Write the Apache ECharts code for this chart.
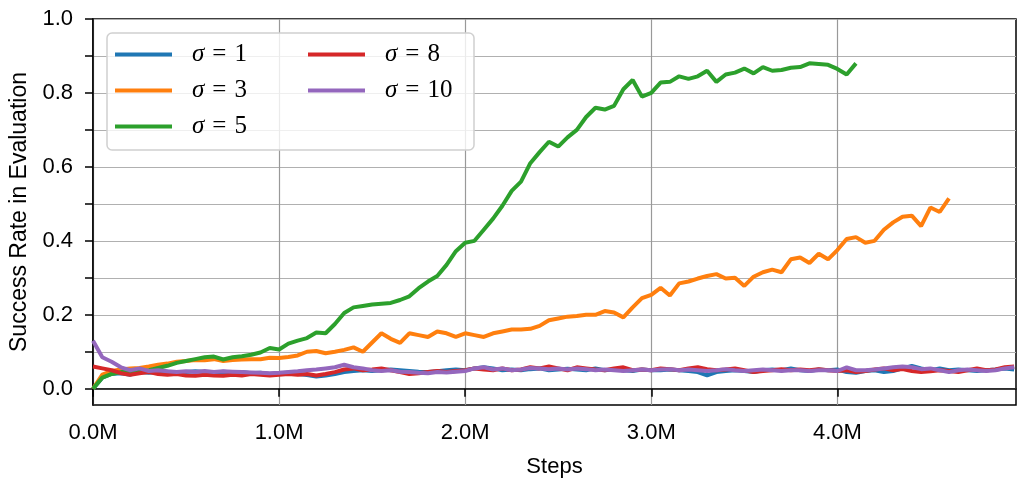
<!DOCTYPE html>
<html>
<head>
<meta charset="utf-8">
<script src="https://cdn.jsdelivr.net/npm/echarts@6/dist/echarts.min.js"></script>
<style>
html,body{margin:0;padding:0;background:#fff;}
#chart{width:1017px;height:480px;}
</style>
</head>
<body>
<div id="chart"></div>
<script>
// Steps in millions
const STEPS_M = [
0.00,0.05,0.10,0.15,0.20,0.25,0.30,0.35,0.40,0.45,
0.50,0.55,0.60,0.65,0.70,0.75,0.80,0.85,0.90,0.95,
1.00,1.05,1.10,1.15,1.20,1.25,1.30,1.35,1.40,1.45,
1.50,1.55,1.60,1.65,1.70,1.75,1.80,1.85,1.90,1.95,
2.00,2.05,2.10,2.15,2.20,2.25,2.30,2.35,2.40,2.45,
2.50,2.55,2.60,2.65,2.70,2.75,2.80,2.85,2.90,2.95,
3.00,3.05,3.10,3.15,3.20,3.25,3.30,3.35,3.40,3.45,
3.50,3.55,3.60,3.65,3.70,3.75,3.80,3.85,3.90,3.95,
4.00,4.05,4.10,4.15,4.20,4.25,4.30,4.35,4.40,4.45,
4.50,4.55,4.60,4.65,4.70,4.75,4.80,4.85,4.90,4.95];

const SIGMA_1 = [
0.0,0.03,0.04,0.042,0.038,0.045,0.043,0.045,0.046,0.044,
0.045,0.047,0.045,0.043,0.046,0.044,0.045,0.042,0.043,0.04,
0.042,0.043,0.04,0.037,0.033,0.036,0.04,0.045,0.048,0.05,
0.048,0.05,0.052,0.05,0.048,0.046,0.045,0.047,0.05,0.052,
0.05,0.055,0.058,0.055,0.05,0.052,0.05,0.053,0.055,0.05,
0.052,0.054,0.052,0.05,0.055,0.05,0.052,0.05,0.048,0.052,
0.05,0.05,0.052,0.05,0.048,0.045,0.036,0.045,0.048,0.05,
0.048,0.045,0.05,0.052,0.05,0.055,0.05,0.048,0.052,0.05,
0.052,0.045,0.043,0.048,0.05,0.045,0.048,0.055,0.062,0.055,
0.05,0.055,0.05,0.052,0.05,0.048,0.05,0.052,0.055,0.052];

const SIGMA_3 = [
0.00,0.038,0.048,0.052,0.055,0.056,0.06,0.065,0.068,0.073,
0.075,0.078,0.077,0.08,0.075,0.078,0.079,0.08,0.08,0.084,
0.083,0.086,0.09,0.1,0.102,0.096,0.1,0.105,0.112,0.1,
0.125,0.15,0.135,0.124,0.15,0.145,0.14,0.155,0.15,0.14,
0.15,0.145,0.14,0.15,0.155,0.16,0.16,0.162,0.17,0.185,
0.19,0.195,0.197,0.2,0.2,0.21,0.206,0.193,0.22,0.245,
0.254,0.273,0.252,0.285,0.29,0.298,0.305,0.31,0.298,0.3,
0.278,0.303,0.315,0.322,0.315,0.35,0.355,0.34,0.365,0.35,
0.375,0.405,0.41,0.395,0.4,0.43,0.45,0.465,0.468,0.44,
0.49,0.478,0.515];

const SIGMA_5 = [
0.00,0.03,0.04,0.045,0.045,0.045,0.05,0.056,0.062,0.07,
0.075,0.08,0.085,0.087,0.079,0.085,0.088,0.092,0.098,0.11,
0.106,0.122,0.13,0.137,0.152,0.15,0.175,0.205,0.22,0.224,
0.228,0.23,0.232,0.24,0.25,0.272,0.29,0.305,0.335,0.372,
0.395,0.40,0.43,0.46,0.495,0.535,0.56,0.61,0.64,0.668,
0.655,0.68,0.70,0.735,0.76,0.755,0.765,0.81,0.835,0.79,
0.80,0.828,0.83,0.845,0.838,0.845,0.86,0.83,0.85,0.855,
0.866,0.853,0.87,0.86,0.862,0.868,0.87,0.88,0.878,0.876,
0.865,0.85,0.88];

const SIGMA_8 = [
0.06,0.055,0.05,0.042,0.038,0.042,0.045,0.04,0.038,0.04,
0.036,0.035,0.038,0.036,0.035,0.038,0.036,0.04,0.038,0.036,
0.038,0.04,0.038,0.04,0.036,0.04,0.045,0.052,0.055,0.05,
0.052,0.055,0.05,0.045,0.04,0.042,0.045,0.048,0.045,0.048,
0.05,0.055,0.052,0.05,0.055,0.05,0.052,0.058,0.055,0.06,
0.055,0.05,0.058,0.055,0.052,0.05,0.055,0.058,0.05,0.052,
0.05,0.055,0.053,0.05,0.055,0.058,0.053,0.05,0.052,0.055,
0.05,0.045,0.048,0.05,0.053,0.05,0.052,0.05,0.053,0.05,
0.048,0.05,0.045,0.048,0.052,0.055,0.05,0.053,0.048,0.045,
0.047,0.05,0.048,0.045,0.05,0.055,0.05,0.052,0.058,0.06];

const SIGMA_10 = [
0.13,0.085,0.073,0.058,0.05,0.055,0.048,0.05,0.047,0.045,
0.047,0.045,0.048,0.045,0.047,0.046,0.045,0.044,0.043,0.042,
0.043,0.045,0.047,0.05,0.052,0.055,0.058,0.065,0.058,0.055,
0.05,0.048,0.05,0.046,0.045,0.043,0.042,0.045,0.044,0.046,
0.048,0.055,0.058,0.052,0.055,0.05,0.052,0.056,0.055,0.053,
0.055,0.052,0.055,0.053,0.05,0.052,0.05,0.048,0.05,0.052,
0.05,0.052,0.053,0.05,0.052,0.05,0.048,0.05,0.053,0.05,
0.048,0.05,0.052,0.05,0.048,0.05,0.05,0.048,0.05,0.05,
0.048,0.058,0.05,0.05,0.052,0.055,0.058,0.06,0.058,0.053,
0.055,0.05,0.045,0.05,0.052,0.05,0.048,0.05,0.055,0.058];

const SERIES_NAMES = ['σ = 1','σ = 3','σ = 5','σ = 8','σ = 10'];
const SERIES_VALUES = [SIGMA_1, SIGMA_3, SIGMA_5, SIGMA_8, SIGMA_10];
const COLORS = ['#1f77b4','#ff7f0e','#2ca02c','#d62728','#9467bd'];
const X_TICKS = [0,1,2,3,4];
const Y_LABEL_TICKS = [0,0.2,0.4,0.6,0.8,1.0];
const Y_MINOR_TICKS = [0,0.1,0.2,0.3,0.4,0.5,0.6,0.7,0.8,0.9,1.0];

const chart = echarts.init(document.getElementById('chart'), null, {renderer:'canvas'});
const FONT = '"Liberation Sans", Arial, Helvetica, sans-serif';
const SERIF = '"Liberation Serif", "DejaVu Serif", serif';

const series = SERIES_NAMES.map((name, i) => ({
  name: name,
  type: 'line',
  showSymbol: false,
  symbol: 'none',
  data: SERIES_VALUES[i].map((v, j) => [STEPS_M[j], v]),
  lineStyle: {color: COLORS[i], width: 4},
  itemStyle: {color: COLORS[i]},
  z: 2 + i,
  animation: false
}));

const legendCommon = {
  orient: 'vertical',
  itemWidth: 57,
  itemHeight: 4,
  icon: 'rect',
  itemGap: 11,
  z: 10,
  textStyle: {
    fontFamily: SERIF, fontSize: 25, color: '#000', lineHeight: 22,
    rich: {
      s: {width: 15, fontSize: 25, fontFamily: SERIF},
      i: {fontFamily: SERIF, fontStyle: 'italic', fontSize: 25, color: '#000'},
      e: {fontFamily: SERIF, fontSize: 25, color: '#000', padding: [0, 8, 0, 8]},
      n: {fontFamily: SERIF, fontSize: 25, color: '#000'}
    }
  },
  formatter: name => '{s| }{i|σ}{e|=}{n|' + name.split('=')[1].trim() + '}',
  inactiveColor: '#ccc'
};

chart.setOption({
  backgroundColor: '#fff',
  animation: false,
  grid: {left: 93, top: 19, right: 1, bottom: 75, show: true, borderColor: '#000', borderWidth: 1.5,
    containLabel: false, outerBoundsMode: 'none'},
  legend: [
    Object.assign({}, legendCommon, {data: SERIES_NAMES.slice(0,3), left: 110, top: 37}),
    Object.assign({}, legendCommon, {data: SERIES_NAMES.slice(3), left: 303, top: 37})
  ],
  graphic: [{
    type: 'rect',
    z: 5,
    shape: {x: 107, y: 33, width: 367, height: 117, r: 5},
    style: {fill: 'rgba(255,255,255,0.8)', stroke: '#d0d0d0', lineWidth: 1.5}
  }],
  xAxis: {
    type: 'value',
    min: 0, max: 4.96,
    name: 'Steps',
    nameLocation: 'middle',
    nameGap: 51,
    nameTextStyle: {fontFamily: FONT, fontSize: 22, color: '#000'},
    axisLine: {show: true, lineStyle: {color: '#000', width: 1.5}},
    axisTick: {show: true, inside: false, length: 8, customValues: X_TICKS, lineStyle: {color: '#000', width: 1.5}},
    axisLabel: {customValues: X_TICKS, fontFamily: FONT, fontSize: 22, color: '#000', margin: 17,
      formatter: v => v.toFixed(1) + 'M'},
    splitLine: {show: true, lineStyle: {color: '#999', width: 1.2}}
  },
  yAxis: {
    type: 'value',
    min: -0.044, max: 1.0,
    name: 'Success Rate in Evaluation',
    nameLocation: 'middle',
    nameGap: 53,
    nameTextStyle: {fontFamily: FONT, fontSize: 23, color: '#000'},
    axisLine: {show: true, lineStyle: {color: '#000', width: 1.5}},
    axisTick: {show: true, inside: false, length: 8, customValues: Y_MINOR_TICKS, lineStyle: {color: '#000', width: 1.5}},
    axisLabel: {customValues: Y_LABEL_TICKS, fontFamily: FONT, fontSize: 22, color: '#000', margin: 20,
      formatter: v => v.toFixed(1)},
    splitLine: {show: true, lineStyle: {color: '#b0b0b0', width: 1.2}}
  },
  series: series
});
</script>
</body>
</html>
